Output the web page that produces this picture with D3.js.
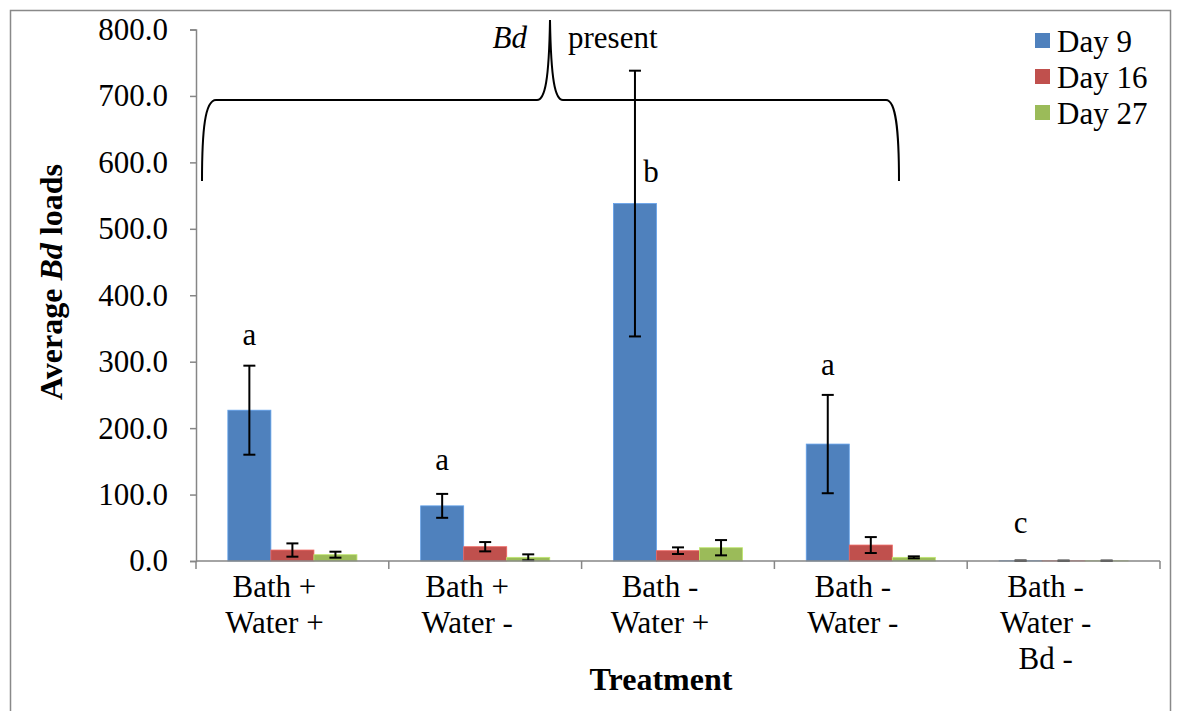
<!DOCTYPE html>
<html lang="en">
<head>
  <meta charset="UTF-8">
  <title>Average Bd loads</title>
  <style>
    body { margin: 0; background: #fff; }
    text { font-family: "Liberation Serif", "Times New Roman", serif; fill: #000; }
  </style>
</head>
<body>
  <svg id="svg" width="1181" height="711"></svg>

  <script src="https://d3js.org/d3.v7.min.js"></script>
  <script>
    // treatments (x axis), each label split on lines
    const treatments = ['Bath +|Water +', 'Bath +|Water -', 'Bath -|Water +', 'Bath -|Water -', 'Bath -|Water -|Bd -']
    const series = ['Day 9', 'Day 16', 'Day 27']
    const colors = ['#4F81BD', '#C0504D', '#9BBB59']

    // average loads and error (+/-) per day
    const day9 = [227, 83, 538, 176, 0.4]
    const day9Err = [67, 18, 200, 74, 0.3]
    const day16 = [16.5, 21.5, 15.5, 24, 0.3]
    const day16Err = [10, 7, 5, 12, 0.3]
    const day27 = [9.5, 5.5, 20, 5.5, 0.3]
    const day27Err = [4.5, 4.5, 11.5, 1.5, 0.3]

    // significance letters and the load level they sit at
    const letters = ['a', 'a', 'b', 'a', 'c']
    const letterAt = [325, 137, 571, 280, 42]

    const yTicks = [0, 100, 200, 300, 400, 500, 600, 700, 800]

    const FS = '31px'

    const values = [day9, day16, day27]
    const errors = [day9Err, day16Err, day27Err]
    const data = []
    treatments.forEach((t, i) => {
      series.forEach((s, j) => {
        data.push({ t, s, j, v: values[j][i], e: errors[j][i] })
      })
    })

    const svg = d3.select('#svg')

    // outer frame
    svg.append('rect')
      .attr('x', 10.5).attr('y', 10.5)
      .attr('width', 1160).attr('height', 720)
      .attr('fill', 'none')
      .attr('stroke', '#898989')
      .attr('stroke-width', 1.5)

    const x = d3.scaleBand()
      .domain(treatments)
      .range([196, 1160])

    const xSub = d3.scaleBand()
      .domain(series)
      .range([0, x.bandwidth()])
      .paddingOuter(0.74)

    const y = d3.scaleLinear()
      .domain([0, 800])
      .range([561, 29.5])

    const color = d3.scaleOrdinal().domain(series).range(colors)

    // bars
    svg.append('g')
      .selectAll('rect')
      .data(data)
      .enter()
      .append('rect')
      .attr('x', d => x(d.t) + xSub(d.s))
      .attr('y', d => y(d.v))
      .attr('width', xSub.bandwidth())
      .attr('height', d => y(0) - y(d.v))
      .attr('fill', d => color(d.s))
      .attr('stroke', d => d3.color(color(d.s)).brighter(0.6))
      .attr('stroke-width', 0.8)

    // error bars
    const err = svg.append('g')
      .attr('stroke', '#000')
      .attr('stroke-width', 2)
      .selectAll('g')
      .data(data)
      .enter()
      .append('g')
      .attr('transform', d => `translate(${x(d.t) + xSub(d.s) + xSub.bandwidth() / 2},0)`)

    err.append('line')
      .attr('y1', d => y(d.v + d.e))
      .attr('y2', d => y(Math.max(0, d.v - d.e)))
    err.append('line')
      .attr('x1', -6).attr('x2', 6)
      .attr('y1', d => y(d.v + d.e)).attr('y2', d => y(d.v + d.e))
    err.append('line')
      .attr('x1', -6).attr('x2', 6)
      .attr('y1', d => y(Math.max(0, d.v - d.e))).attr('y2', d => y(Math.max(0, d.v - d.e)))

    // axes
    const yAxis = svg.append('g')
      .attr('transform', 'translate(196,0)')
      .call(d3.axisLeft(y).tickValues(yTicks).tickFormat(d3.format('.1f')).tickSize(6).tickPadding(22))
    yAxis.select('.domain').attr('stroke', '#868686').attr('stroke-width', 1.5)
    yAxis.selectAll('.tick line').attr('stroke', '#868686').attr('stroke-width', 1.5)
    yAxis.selectAll('.tick text')
      .style('font-family', '"Liberation Serif", "Times New Roman", serif')
      .style('font-size', FS)
      .attr('fill', '#000')

    const xAxis = svg.append('g')
      .attr('transform', `translate(0,${y(0)})`)
    xAxis.append('line')
      .attr('x1', 196).attr('x2', 1160)
      .attr('stroke', '#868686').attr('stroke-width', 1.5)
    xAxis.selectAll('.sep')
      .data(treatments.concat(['end']))
      .enter()
      .append('line')
      .attr('x1', (d, i) => i < treatments.length ? x(d) : 1160)
      .attr('x2', (d, i) => i < treatments.length ? x(d) : 1160)
      .attr('y1', 0).attr('y2', 8)
      .attr('stroke', '#868686').attr('stroke-width', 1.5)

    xAxis.selectAll('.lab')
      .data(treatments)
      .enter()
      .append('text')
      .attr('text-anchor', 'middle')
      .style('font-size', FS)
      .each(function (d) {
        const cx = x(d) + x.bandwidth() / 2 - 18
        d3.select(this).selectAll('tspan')
          .data(d.split('|'))
          .enter()
          .append('tspan')
          .attr('x', cx)
          .attr('y', (l, k) => 36 + k * 36)
          .text(l => l)
      })

    // axis titles
    svg.append('text')
      .attr('x', 661).attr('y', 690)
      .attr('text-anchor', 'middle')
      .style('font-size', '32px')
      .style('font-weight', 'bold')
      .text('Treatment')

    const yTitle = svg.append('text')
      .attr('transform', 'translate(62,282) rotate(-90)')
      .attr('text-anchor', 'middle')
      .style('font-size', '32px')
      .style('font-weight', 'bold')
    yTitle.append('tspan').text('Average ')
    yTitle.append('tspan').style('font-style', 'italic').text('Bd')
    yTitle.append('tspan').text(' loads')

    // significance letters
    svg.append('g')
      .selectAll('text')
      .data(letters)
      .enter()
      .append('text')
      .attr('text-anchor', 'middle')
      .style('font-size', FS)
      .attr('x', (d, i) => {
        const cx = x(treatments[i]) + xSub(series[0]) + xSub.bandwidth() / 2
        // letter that falls inside the error bar is pushed to its right
        return letterAt[i] < day9[i] + day9Err[i] ? cx + 16 : cx
      })
      .attr('y', (d, i) => y(letterAt[i]))
      .text(d => d)

    // brace over the Bd present treatments
    svg.append('path')
      .attr('d', 'M202,181 C202,130 205,100 216,100 L537,100 C545,100 549,80 550,20 C551,80 555,100 563,100 L886,100 C896,100 899,130 899,181')
      .attr('fill', 'none')
      .attr('stroke', '#000')
      .attr('stroke-width', 2)

    svg.append('text')
      .attr('x', 527).attr('y', 48)
      .attr('text-anchor', 'end')
      .style('font-size', FS)
      .style('font-style', 'italic')
      .text('Bd')
    svg.append('text')
      .attr('x', 568).attr('y', 48)
      .style('font-size', FS)
      .text('present')

    // legend
    const legend = svg.append('g')
      .selectAll('g')
      .data(series)
      .enter()
      .append('g')
      .attr('transform', (d, i) => `translate(1035,${33 + i * 36})`)
    legend.append('rect')
      .attr('width', 15).attr('height', 15)
      .attr('fill', d => color(d))
    legend.append('text')
      .attr('x', 22).attr('y', 19)
      .style('font-size', FS)
      .text(d => d)
  </script>
</body>
</html>
